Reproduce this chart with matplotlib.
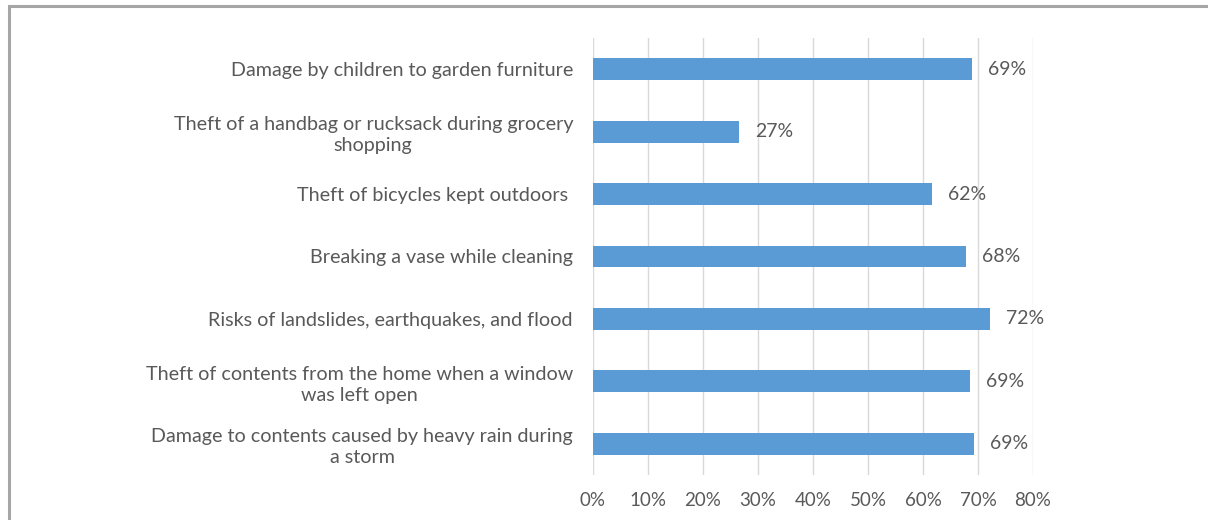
import matplotlib
matplotlib.use("Agg")
import matplotlib.pyplot as plt
from matplotlib.patches import Rectangle

categories = [
    "Damage by children to garden furniture",
    "Theft of a handbag or rucksack during grocery\nshopping",
    "Theft of bicycles kept outdoors ",
    "Breaking a vase while cleaning",
    "Risks of landslides, earthquakes, and flood",
    "Theft of contents from the home when a window\nwas left open",
    "Damage to contents caused by heavy rain during\na storm",
]
values = [68.9, 26.6, 61.7, 67.9, 72.2, 68.6, 69.3]
value_labels = ["69%", "27%", "62%", "68%", "72%", "69%", "69%"]
xticks = [0, 10, 20, 30, 40, 50, 60, 70, 80]
xtick_labels = ["0%", "10%", "20%", "30%", "40%", "50%", "60%", "70%", "80%"]

plt.rcParams['font.family'] = ['Lato', 'DejaVu Sans']
text_color = "#595959"

fig = plt.figure(figsize=(12.08, 5.2), dpi=100)
ax = fig.add_axes([593/1208, 1-475/520, (1033-593)/1208, (475-38)/520])

ypos = list(range(len(categories)))[::-1]
ax.barh(ypos, values, height=0.35, color="#5B9BD5", zorder=3)
for y, v, lab in zip(ypos, values, value_labels):
    ax.text(v + 2.9, y, lab, va="center", ha="left", fontsize=14, color=text_color)

ax.set_xlim(0, 80)
ax.set_ylim(-0.5, 6.5)
ax.set_xticks(xticks)
ax.set_xticklabels(xtick_labels, fontsize=13.5, color=text_color)
ax.set_yticks(ypos)
ax.set_yticklabels(categories, fontsize=14.2, color=text_color, multialignment="center",
                   linespacing=1.3)
ax.tick_params(axis="both", length=0)
ax.tick_params(axis="y", pad=14.4)
ax.tick_params(axis="x", pad=12)
ax.grid(axis="x", color="#D9D9D9", linewidth=1, zorder=0)
for s in ax.spines.values():
    s.set_visible(False)

fig.patches.append(Rectangle((8.5/1208, -0.1), 1.2, 1.1 - 6.5/520, transform=fig.transFigure,
                             fill=False, edgecolor="#A6A6A6", linewidth=2.2, zorder=0))

fig.savefig("out.png", dpi=100)
